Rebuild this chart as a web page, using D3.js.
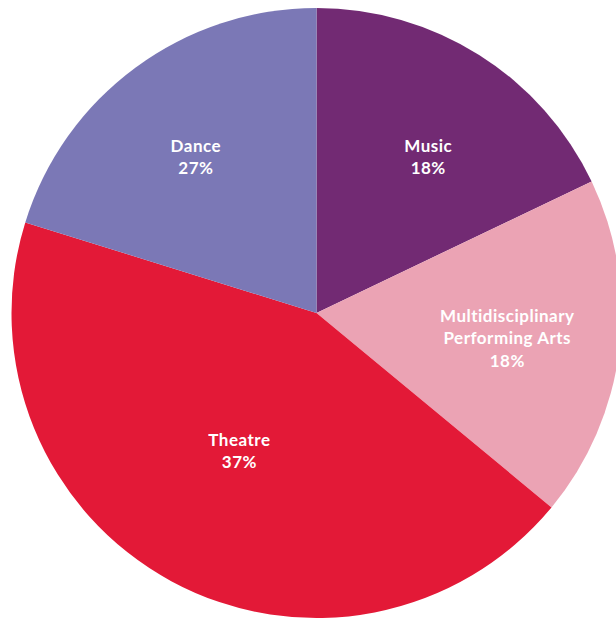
<!DOCTYPE html>
<html><head><meta charset="utf-8">
<script src="https://cdn.jsdelivr.net/npm/d3@7"></script>
<style>html,body{margin:0;padding:0;background:#fff;overflow:hidden}</style>
</head><body>
<svg id="c" width="616" height="620"></svg>
<script>
const categories = ["Music", "Multidisciplinary Performing Arts", "Theatre", "Dance"];
const labelLines = [["Music"], ["Multidisciplinary", "Performing Arts"], ["Theatre"], ["Dance"]];
const sliceValues = [17.9, 18.1, 43.8, 20.2];
const percentLabels = ["18%", "18%", "37%", "27%"];
const colors = ["#722a73", "#eba3b4", "#e31937", "#7b78b6"];
const labelRadiusFrac = [0.629, 0.631, 0.519, 0.646];
const labelAngleShift = [3.4, 0.6, 0.7, -1.4];

const svg = d3.select("#c");
const cx = 316.5, cy = 313, R = 305;
const g = svg.append("g").attr("transform", `translate(${cx},${cy})`);
const pie = d3.pie().sort(null).value(d => d)(sliceValues);
const arc = d3.arc().innerRadius(0).outerRadius(R);
g.selectAll("path").data(pie).join("path")
  .attr("d", arc).attr("fill", (d, i) => colors[i]);

pie.forEach((d, i) => {
  const a = (d.startAngle + d.endAngle) / 2 + labelAngleShift[i] * Math.PI / 180;
  const r = R * labelRadiusFrac[i];
  const x = Math.sin(a) * r, y = -Math.cos(a) * r;
  const lines = labelLines[i].concat([percentLabels[i]]);
  const lh = 22.5;
  const t = g.append("text").attr("text-anchor", "middle")
    .attr("font-family", "Lato, sans-serif").attr("font-weight", "bold")
    .attr("font-size", 17).attr("letter-spacing", 0.5).attr("fill", "#fff");
  lines.forEach((l, j) => {
    t.append("tspan").attr("x", x)
      .attr("y", y + (j - (lines.length - 1) / 2) * lh)
      .attr("dy", "0.35em").text(l);
  });
});
</script>
</body></html>
